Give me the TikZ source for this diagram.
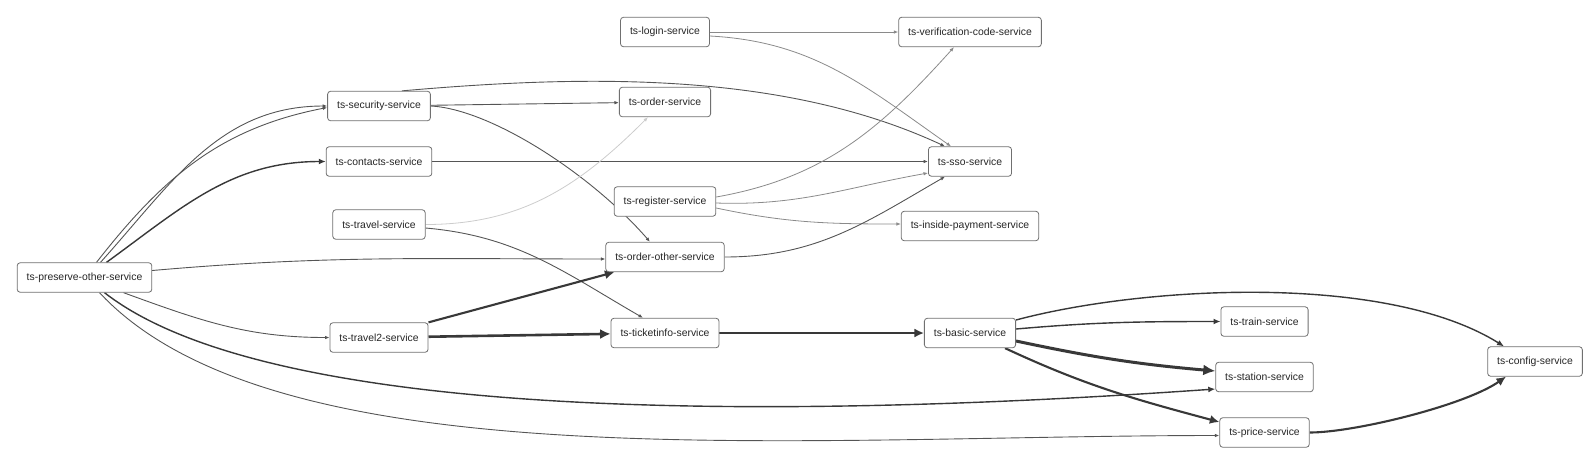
\documentclass[tikz,border=0pt]{standalone}
\usepackage{fontspec}
\setmainfont{Liberation Sans}
\usetikzlibrary{arrows.meta,backgrounds}

\definecolor{boxgray}{HTML}{707070}
\definecolor{darkgray}{HTML}{555555}
\definecolor{lightgray}{HTML}{8A8A8A}
\definecolor{faintgray}{HTML}{CCCCCC}
\definecolor{heavygray}{HTML}{383838}

\begin{document}
\begin{tikzpicture}[x=0.25pt, y=0.25pt,
            svc/.style={draw=boxgray, fill=white, rounded corners=0.75pt,
                        line width=0.2pt, inner xsep=2.375pt, inner ysep=0pt,
                        minimum height=7.375pt, text=black!85,
                        font=\fontsize{2.6}{3}\selectfont},
            faintlink/.style={draw=faintgray, line width=0.2pt,
                              -{Latex[length=1.125pt,width=0.9pt]}},
            lightlink/.style={draw=lightgray, line width=0.2pt,
                              -{Latex[length=1.125pt,width=0.9pt]}},
            darklink/.style={draw=darkgray, line width=0.225pt,
                             -{Latex[length=1.125pt,width=0.9pt]}},
            midlink/.style={draw=heavygray, line width=0.35pt,
                            -{Latex[length=1.75pt,width=1.5pt]}},
            boldlink/.style={draw=heavygray, line width=0.525pt,
                             -{Latex[length=2.375pt,width=2.25pt]}},
            heavylink/.style={draw=heavygray, line width=0.65pt,
                              -{Latex[length=2.625pt,width=2.5pt]}},
            fatlink/.style={draw=heavygray, line width=0.75pt,
                            -{Latex[length=3pt,width=2.75pt]}}]

        \useasboundingbox (0,0) rectangle (1586,464);

        \node[svc] (preserve)     at (84.5,186.5)   {ts-preserve-other-service};
        \node[svc] (security)     at (379,358)      {ts-security-service};
        \node[svc] (contacts)     at (379,302.5)    {ts-contacts-service};
        \node[svc] (travel)       at (379,239.5)    {ts-travel-service};
        \node[svc] (travel2)      at (379,126.5)    {ts-travel2-service};
        \node[svc] (login)        at (665,432)      {ts-login-service};
        \node[svc] (order)        at (665,362)      {ts-order-service};
        \node[svc] (register)     at (665,262.5)    {ts-register-service};
        \node[svc] (orderother)   at (665,207)      {ts-order-other-service};
        \node[svc] (ticketinfo)   at (665,131)      {ts-ticketinfo-service};
        \node[svc] (verification) at (970,432)      {ts-verification-code-service};
        \node[svc] (sso)          at (970,302.5)    {ts-sso-service};
        \node[svc] (payment)      at (970,238)      {ts-inside-payment-service};
        \node[svc] (basic)        at (970,131)      {ts-basic-service};
        \node[svc] (train)        at (1264.5,142.5) {ts-train-service};
        \node[svc] (station)      at (1264.5,87)    {ts-station-service};
        \node[svc] (price)        at (1264.5,31.5)  {ts-price-service};
        \node[svc] (config)       at (1535,102.5)   {ts-config-service};

        \begin{scope}[on background layer]
        \path ([shift={(12,0)}]preserve.north) edge [darklink, out=52, in=191]  ([shift={(0,-1.5)}]security.west)
              ([shift={(16,0)}]preserve.north) edge [darklink, out=48, in=180]  (security.west)
              ([shift={(22,0)}]preserve.north) edge [midlink, out=36, in=180]   (contacts.west)
              ([shift={(0,7)}]preserve.east)   edge [darklink, out=5, in=180]   ([shift={(0,-2)}]orderother.west)
              ([shift={(39,0)}]preserve.south) edge [darklink, out=-20, in=180] (travel2.west)
              ([shift={(20,0)}]preserve.south) edge [midlink, out=-38, in=184,
                                                     out distance=59pt, in distance=79.25pt] ([shift={(0,-12)}]station.west)
              ([shift={(15,0)}]preserve.south) edge [darklink, out=-47, in=180,
                                                     out distance=65pt, in distance=105pt] ([shift={(0,-3)}]price.west);

        \path ([shift={(23,0)}]security.north) edge [darklink, out=5, in=155,
                                                     out distance=45pt, in distance=45pt] ([shift={(-25,0)}]sso.north)
              (security)                       edge [darklink]                  (order)
              (security.east)                  edge [darklink, out=-3, in=131,
                                                     out distance=15pt, in distance=22.5pt] ([shift={(-15,0)}]orderother.north)
              (contacts)                       edge [darklink]                  (sso)
              (travel.east)                    edge [faintlink, out=0, in=225]  ([shift={(-17,0)}]order.south)
              ([shift={(0,-3.5)}]travel.east)  edge [darklink, out=-5, in=150]  ([shift={(-22,0)}]ticketinfo.north)
              (travel2.north east)             edge [boldlink]                  ([shift={(9,0)}]orderother.south west)
              (travel2)                        edge [heavylink]                 (ticketinfo);

        \path (login)                          edge [lightlink]                 (verification)
              ([shift={(0,-4)}]login.east)     edge [lightlink, out=-3, in=145] ([shift={(-19,0)}]sso.north)
              ([shift={(0,4.5)}]register.east) edge [lightlink, out=10, in=228] ([shift={(-16,0)}]verification.south)
              ([shift={(0,-1.5)}]register.east) edge [lightlink, out=-2, in=190] ([shift={(0,-11.5)}]sso.west)
              ([shift={(0,-6.5)}]register.east) edge [lightlink, out=-12, in=180] ([shift={(0,2)}]payment.west)
              (orderother.east)                edge [darklink, out=0, in=210]   ([shift={(-25,0)}]sso.south)
              (ticketinfo)                     edge [boldlink]                  (basic);

        \path ([shift={(0,13)}]basic.east)     edge [midlink, out=15, in=148,
                                                     out distance=32.5pt, in distance=35pt] ([shift={(-31,0)}]config.north)
              ([shift={(0,4)}]basic.east)      edge [midlink, out=5, in=180]    (train.west)
              ([shift={(0,-8)}]basic.east)     edge [fatlink, out=-12, in=175]  ([shift={(0,6)}]station.west)
              ([shift={(-11,0)}]basic.south east) edge [boldlink, out=-25, in=165] ([shift={(0,10.5)}]price.west)
              (price.east)                     edge [boldlink, out=0, in=215,
                                                     out distance=11.25pt, in distance=12.5pt] ([shift={(-29,0)}]config.south);
        \end{scope}

    \end{tikzpicture}
\end{document}
